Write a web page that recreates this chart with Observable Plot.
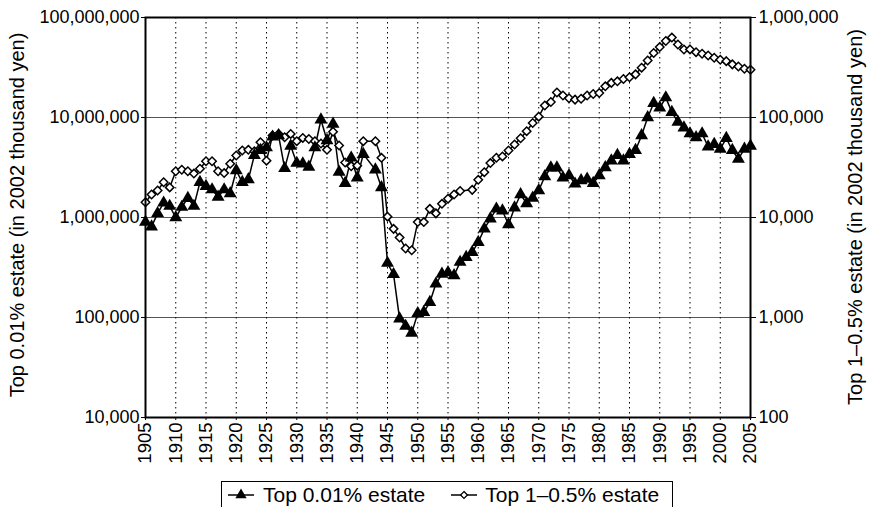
<!DOCTYPE html>
<html><head><meta charset="utf-8">
<script src="https://cdn.jsdelivr.net/npm/d3@7"></script>
<script src="https://cdn.jsdelivr.net/npm/@observablehq/plot@0.6"></script>
<style>
body{margin:0;background:#fff;font-family:"Liberation Sans",Arial,sans-serif;}
#wrap{position:relative;width:872px;height:507px;overflow:hidden;}
#legend{position:absolute;left:221px;top:481px;width:452px;height:27px;box-sizing:border-box;border:1.5px solid #000;display:flex;align-items:center;font-size:21px;color:#000;}
#legend .item{display:flex;align-items:center;}
#legend svg{display:block;}
</style></head>
<body><div id="wrap"><div id="chart"></div><div id="legend"></div></div>
<script>
const years = d3.range(1905, 2006);
const top001 = [
 900000, 810000, 1100000, 1400000, 1300000, 1000000, 1270000, 1560000, 1300000, 2250000,
 2050000, 1900000, 1600000, 1900000, 1740000, 2950000, 2250000, 2400000, 4200000, 4700000,
 5000000, 6400000, 6600000, 3100000, 5200000, 3500000, 3450000, 3200000, 5000000, 9500000,
 5900000, 8600000, 2850000, 2200000, 3950000, 2500000, 4300000, null, 3000000, 2000000,
 350000, 270000, 97000, 82000, 70000, 110000, 113000, 142000, 217000, 272000,
 282000, 263000, 358000, 400000, 450000, 565000, 770000, 970000, 1220000, 1170000,
 850000, 1250000, 1700000, 1380000, 1570000, 1860000, 2570000, 3140000, 3140000, 2500000,
 2630000, 2170000, 2340000, 2430000, 2200000, 2630000, 3170000, 3700000, 4200000, 3700000,
 4300000, 4700000, 6600000, 10000000, 13900000, 12500000, 15800000, 11300000, 9000000, 7900000,
 6900000, 6300000, 6900000, 5100000, 5400000, 4850000, 6200000, 4700000, 3850000, 4850000,
 5200000];
const top1_05 = [
 14200, 17000, 18600, 22500, 20000, 29000, 30000, 29000, 27500, 30700,
 36500, 36500, 29000, 27800, 34500, 41700, 46800, 47500, 46000, 56500,
 37000, 66000, 68500, 63500, 68500, 58000, 62500, 61000, 58000, 55000,
 47500, 72000, 52500, 35500, 32500, 33000, 58000, null, 58000, 39500,
 10200, 7700, 6300, 4900, 4700, 9000, 9000, 12200, 11000, 13700,
 15400, 17000, 18400, null, 18900, 23800, 28400, 35000, 39600, 40800,
 46800, 53700, 62000, 73000, 88000, 102000, 132000, 143000, 178000, 166000,
 156000, 151000, 154000, 166000, 172000, 176000, 205000, 222000, 230000, 243000,
 253000, 270000, 315000, 372000, 441000, 506000, 582000, 630000, 537000, 478000,
 480000, 450000, 434000, 417000, 396000, 378000, 366000, 340000, 324000, 307000,
 300000];
const leftTicks = [1e4, 1e5, 1e6, 1e7, 1e8];
const xTicks = d3.range(1905, 2006, 5);
const gridYears = d3.range(1910, 2001, 5);
const labelLeft = "Top 0.01% estate (in 2002 thousand yen)";
const labelRight = "Top 1\u20130.5% estate (in 2002 thousand yen)";
const seriesNames = ["Top 0.01% estate", "Top 1\u20130.5% estate"];
const rightFactor = 100;

const s1 = years.map((y, i) => ({year: y, v: top001[i]})).filter(d => d.v != null);
const s2 = years.map((y, i) => ({year: y, v: top1_05[i] == null ? null : top1_05[i] * rightFactor})).filter(d => d.v != null);

const W = 872, H = 478;
const fmt = d3.format(",");
const chart = Plot.plot({
  width: W, height: H,
  marginLeft: 145, marginRight: 122, marginTop: 17, marginBottom: H - 417,
  style: {fontFamily: "'Liberation Sans', Arial, sans-serif", fontSize: "18px", color: "#000", background: "#fff"},
  x: {domain: [1905, 2005]},
  y: {type: "log", domain: [1e4, 1e8]},
  marks: [
    Plot.ruleY([1e5, 1e6, 1e7], {stroke: "#555", strokeWidth: 1.2}),
    Plot.ruleX(gridYears, {stroke: "#000", strokeWidth: 1, strokeDasharray: "1.5,3.5"}),
    Plot.axisY({anchor: "left", ticks: leftTicks, tickFormat: fmt, tickSize: 4, tickPadding: 2, fontSize: 18, label: null}),
    Plot.axisY({anchor: "right", ticks: leftTicks, tickFormat: d => fmt(d / rightFactor), tickSize: 5, tickPadding: 3, fontSize: 18, label: null}),
    Plot.axisX({ticks: xTicks, tickFormat: d => String(d), tickRotate: -90, tickSize: 3, tickPadding: 2, fontSize: 18.5, label: null}),
    Plot.line(s2, {x: "year", y: "v", stroke: "#000", strokeWidth: 1.5}),
    Plot.line(s1, {x: "year", y: "v", stroke: "#000", strokeWidth: 1.5}),
    Plot.dot(s2, {x: "year", y: "v", symbol: "diamond2", r: 3.8, fill: "#fff", stroke: "#000", strokeWidth: 1.5}),
    Plot.dot(s1, {x: "year", y: "v", symbol: "triangle", r: 4.8, fill: "#000", stroke: "none"}),
    Plot.frame({stroke: "#000", strokeWidth: 2})
  ]
});
document.getElementById("chart").appendChild(chart);

const svg = d3.select(chart);
svg.append("text").attr("transform", "translate(19,215) rotate(-90)").attr("text-anchor", "middle")
  .attr("dominant-baseline", "middle").attr("font-size", 20).attr("fill", "#000").text(labelLeft);
svg.append("text").attr("transform", "translate(857,217) rotate(-90)").attr("text-anchor", "middle")
  .attr("dominant-baseline", "middle").attr("font-size", 20).attr("fill", "#000").text(labelRight);

// legend
const leg = d3.select("#legend");
const tri = d3.symbol(d3.symbolTriangle, 55)();
const dia = d3.symbol(d3.symbolDiamond2, 30)();
const items = [
  {name: seriesNames[0], path: tri, fill: "#000", stroke: "none", ml: 6, gap: 9},
  {name: seriesNames[1], path: dia, fill: "#fff", stroke: "#000", ml: 26, gap: 8}
];
items.forEach(it => {
  const d = leg.append("div").attr("class", "item").style("margin-left", it.ml + "px");
  const s = d.append("svg").attr("width", 26).attr("height", 16);
  s.append("line").attr("x1", 0).attr("x2", 26).attr("y1", 8).attr("y2", 8).attr("stroke", "#000").attr("stroke-width", 1.5);
  s.append("path").attr("d", it.path).attr("transform", "translate(13,8)").attr("fill", it.fill).attr("stroke", it.stroke).attr("stroke-width", 1.3);
  d.append("span").style("margin-left", it.gap + "px").text(it.name);
});
</script>
</body></html>
